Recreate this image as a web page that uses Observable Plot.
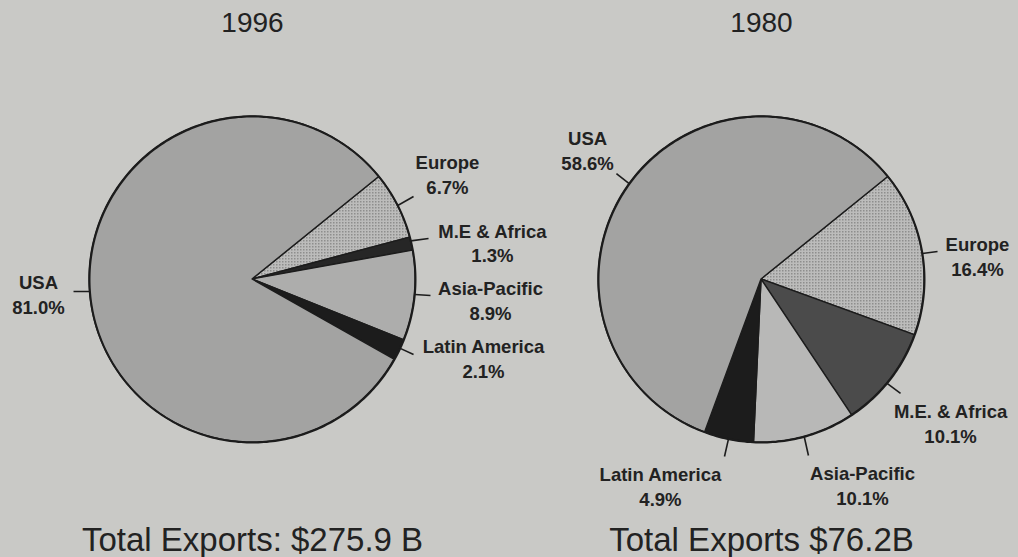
<!DOCTYPE html>
<html>
<head>
<meta charset="utf-8">
<script src="https://cdn.jsdelivr.net/npm/d3@7"></script>
<script src="https://cdn.jsdelivr.net/npm/@observablehq/plot@0.6"></script>
<style>
  html, body { margin: 0; padding: 0; background: #c9c9c6; }
  #chart { width: 1018px; height: 557px; }
</style>
</head>
<body>
<div id="chart"></div>
<script>
// ---- data ----
const years = ["1996", "1980"];
const regions1996 = ["Europe", "M.E & Africa", "Asia-Pacific", "Latin America", "USA"];
const shares1996 = [6.7, 1.3, 8.9, 2.1, 81.0];
const regions1980 = ["Europe", "M.E. & Africa", "Asia-Pacific", "Latin America", "USA"];
const shares1980 = [16.4, 10.1, 10.1, 4.9, 58.6];
const totals = ["Total Exports: $275.9 B", "Total Exports $76.2B"];

// ---- styles / layout (not data) ----
const fills = {
  "1996": ["url(#dots)", "#262626", "#adadac", "#1c1c1c", "#a3a3a2"],
  "1980": ["url(#dots)", "#4b4b4b", "#b8b8b7", "#1c1c1c", "#a3a3a2"]
};
const startAngle = 51; // degrees clockwise from 12 o'clock
// label layout per slice: edge angle (deg), leader end [x,y], text centre [x,y] in pie-radius units
const labelLayout = {
  "1996": [
    {edge: 63,    end: [0.988, 0.509],  text: [1.196, 0.653]},
    {edge: 76.3,  end: [1.080, 0.252],  text: [1.472, 0.230]},
    {edge: 95.3,  end: [1.092, -0.098], text: [1.460, -0.120]},
    {edge: 115,   end: [0.988, -0.460], text: [1.417, -0.479]},
    {edge: 265.8, end: [-1.098, -0.074], text: [-1.313, -0.086]}
  ],
  "1980": [
    {edge: 80.8,  end: [1.080, 0.172],  text: [1.325, 0.150]},
    {edge: 129.6, end: [0.853, -0.699], text: [1.160, -0.880]},
    {edge: 164.8, end: [0.288, -1.080], text: [0.620, -1.255]},
    {edge: 191.7, end: [-0.227, -1.086], text: [-0.620, -1.264]},
    {edge: 305.9, end: [-0.890, 0.650], text: [-1.067, 0.798]}
  ]
};

// ---- build tables ----
const series = {"1996": [regions1996, shares1996], "1980": [regions1980, shares1980]};
const rad = d => d * Math.PI / 180;
const slicePts = [];
const labels = [];
const outline = [];
for (const year of years) {
  const [names, vals] = series[year];
  const total = d3.sum(vals);
  let a = startAngle;
  names.forEach((name, i) => {
    const span = vals[i] / total * 360;
    const a0 = a, a1 = a + span;
    const n = Math.max(2, Math.ceil(span));
    for (let k = 0; k <= n; k++) {
      const t = rad(a0 + (a1 - a0) * k / n);
      slicePts.push({year, key: year + name, x: Math.sin(t), y: Math.cos(t), fill: fills[year][i]});
    }
    a = a1;
    const L = labelLayout[year][i];
    labels.push({
      year,
      ex: Math.sin(rad(L.edge)), ey: Math.cos(rad(L.edge)),
      lx: L.end[0], ly: L.end[1],
      tx: L.text[0], ty: L.text[1],
      label: name + "\n" + vals[i].toFixed(1) + "%"
    });
  });
  for (let k = 0; k <= 360; k++) outline.push({year, x: Math.sin(rad(k)), y: Math.cos(rad(k))});
}
const titleRows = years.map((y, i) => ({year: y, title: y, total: totals[i]}));

// ---- plot ----
const R = 163; // px per unit
const font = "'Liberation Sans', Arial, Helvetica, sans-serif";
const chart = Plot.plot({
  width: 1018,
  height: 557,
  marginTop: 0, marginBottom: 0, marginLeft: 0, marginRight: 0,
  style: {background: "transparent", fontFamily: font, color: "#1e1e1e"},
  fx: {domain: years, padding: 0, axis: null},
  x: {domain: [-252 / R, 257 / R], axis: null},
  y: {domain: [-(557 - 279) / R, 279 / R], axis: null},
  color: {type: "identity"},
  marks: [
    Plot.area(slicePts, {fx: "year", x1: "x", y1: "y", x2: 0, y2: 0, z: "key", fill: "fill",
      stroke: "#1c1c1c", strokeWidth: 1.4, strokeLinejoin: "round"}),
    Plot.line(outline, {fx: "year", x: "x", y: "y", stroke: "#1c1c1c", strokeWidth: 2}),
    Plot.link(labels, {fx: "year", x1: "ex", y1: "ey", x2: "lx", y2: "ly", stroke: "#1c1c1c", strokeWidth: 1.6}),
    Plot.text(labels, {fx: "year", x: "tx", y: "ty", text: "label", fontSize: 18.5, fontWeight: "bold",
      lineHeight: 1.35, fill: "#222", letterSpacing: "0.5px"}),
    Plot.text(titleRows, {fx: "year", x: 0, frameAnchor: "top", dy: 23, lineAnchor: "middle",
      text: "title", fontSize: 28, fill: "#222", letterSpacing: "2px"}),
    Plot.text(titleRows, {fx: "year", x: 0, frameAnchor: "bottom", dy: -17, lineAnchor: "middle",
      text: "total", fontSize: 33, fill: "#222", letterSpacing: "0.3px"})
  ]
});
// halftone-like dot pattern for the Europe slices
const defs = d3.select(chart).insert("defs", ":first-child");
const pat = defs.append("pattern").attr("id", "dots").attr("patternUnits", "userSpaceOnUse")
  .attr("width", 3).attr("height", 3);
pat.append("rect").attr("width", 3).attr("height", 3).attr("fill", "#bcbcbb");
pat.append("rect").attr("width", 1.5).attr("height", 1.5).attr("fill", "#8e8e8d");
document.getElementById("chart").appendChild(chart);
</script>
</body>
</html>
